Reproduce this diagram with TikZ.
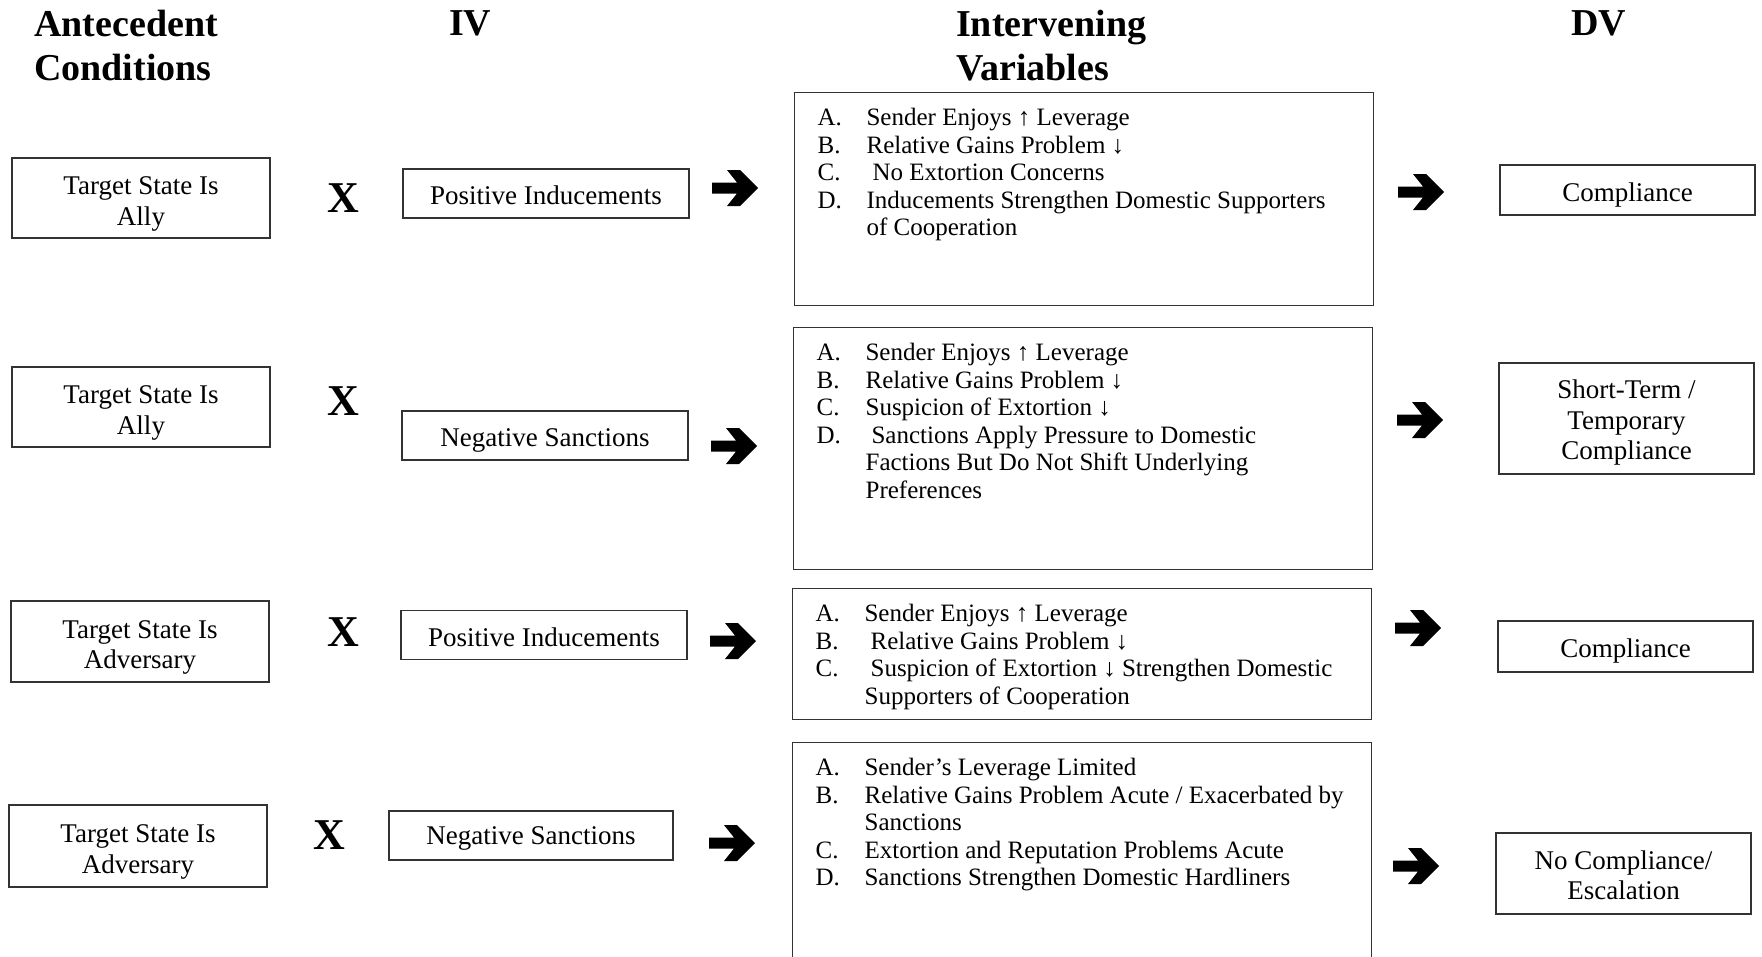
\documentclass[tikz,border=0pt]{standalone}
\usepackage{fontspec}
\setmainfont{Liberation Serif}
\usetikzlibrary{positioning}

% one lettered line of an intervening-variable box
\newcommand{\mechitem}[2]{\hangindent=49pt\hangafter=1\noindent\makebox[49pt][l]{#1}#2\par}
\newcommand{\mechtext}[2]{\parbox[t][#1][t]{579pt}{\leftskip=23pt\rightskip=0pt plus 1fil\fontsize{25}{27.5}\selectfont\vspace*{16pt}#2}}

\begin{document}
\begin{tikzpicture}[
    x=1pt, y=-1pt,
    drop/.style={execute at begin node={\rule{0pt}{#1}}},
    plainbox/.style={rectangle, draw=black!80, line width=1.2pt, align=center, inner sep=0pt, font=\fontsize{27}{30.5}\selectfont},
    condbox/.style={plainbox, minimum width=258pt, minimum height=#1, drop=60pt},
    condbox/.default=80pt,
    ivbox/.style={plainbox, minimum width=286pt, minimum height=49pt, drop=23pt},
    dvbox/.style={plainbox, minimum width=255pt, minimum height=#1, drop=28pt},
    dvbox/.default=50pt,
    mech/.style={rectangle, draw=black!80, line width=1.2pt, inner sep=0pt, anchor=north west},
    colhead/.style={anchor=north west, inner sep=0pt, align=left, font=\fontsize{38}{44}\selectfont\bfseries},
    xmark/.style={inner sep=0pt, font=\fontsize{44}{44}\selectfont\bfseries},
    fatarrow/.pic={\fill[black] (0,-5.5) -- (25,-5.5) -- (15,-18) -- (28,-18) -- (46,0) -- (28,18) -- (15,18) -- (25,5.5) -- (0,5.5) -- cycle;}
]
\useasboundingbox (0,0) rectangle (1762,956);
\clip (0,0) rectangle (1762,956);

% Column headings
\node[colhead] (hant) at (34,10) {Antecedent\\Conditions};
\node[colhead] (hiv) at (449,10) {IV};
\node[colhead] (hint) at (956,10) {Intervening\\Variables};
\node[colhead] (hdv) at (1571,10) {DV};

% Row 1: ally x inducements
\node[condbox] (cond1) at (141,198) {Target State Is\\Ally};
\node[xmark] (x1) at (343,198) {X};
\node[ivbox] (iv1) at (546,193.5) {Positive Inducements};
\pic at (712,188) {fatarrow};
\node[mech] (mech1) at (794,92) {\mechtext{213pt}{%
    \mechitem{A.}{Sender Enjoys ↑ Leverage}
    \mechitem{B.}{Relative Gains Problem ↓}
    \mechitem{C.}{\hspace{6pt}No Extortion Concerns}
    \mechitem{D.}{Inducements Strengthen Domestic Supporters\\of Cooperation}}};
\pic at (1398,192) {fatarrow};
\node[dvbox] (dv1) at (1627.5,190) {Compliance};

% Row 2: ally x sanctions
\node[condbox] (cond2) at (141,407) {Target State Is\\Ally};
\node[xmark] (x2) at (343,401) {X};
\node[ivbox, drop=27pt] (iv2) at (545,435.5) {Negative Sanctions};
\pic at (711,446) {fatarrow};
\node[mech] (mech2) at (793,327) {\mechtext{242pt}{%
    \mechitem{A.}{Sender Enjoys ↑ Leverage}
    \mechitem{B.}{Relative Gains Problem ↓}
    \mechitem{C.}{Suspicion of Extortion ↓}
    \mechitem{D.}{\hspace{6pt}Sanctions Apply Pressure to Domestic\\Factions But Do Not Shift Underlying\\Preferences}}};
\pic at (1397,420) {fatarrow};
\node[dvbox=111pt, drop=88pt] (dv2) at (1626.5,418.5) {Short-Term /\\Temporary\\Compliance};

% Row 3: adversary x inducements
\node[condbox=81pt] (cond3) at (140,641.5) {Target State Is\\Adversary};
\node[xmark] (x3) at (343,632) {X};
\node[ivbox] (iv3) at (544,635) {Positive Inducements};
\pic at (710,641) {fatarrow};
\node[mech] (mech3) at (792,588) {\mechtext{131pt}{%
    \mechitem{A.}{Sender Enjoys ↑ Leverage}
    \mechitem{B.}{\hspace{6pt}Relative Gains Problem ↓}
    \mechitem{C.}{\hspace{6pt}Suspicion of Extortion ↓ Strengthen Domestic\\Supporters of Cooperation}}};
\pic at (1395,628) {fatarrow};
\node[dvbox=51pt] (dv3) at (1625.5,646.5) {Compliance};

% Row 4: adversary x sanctions
\node[condbox=82pt] (cond4) at (138,846) {Target State Is\\Adversary};
\node[xmark] (x4) at (329,835) {X};
\node[ivbox, minimum width=284pt] (iv4) at (531,835.5) {Negative Sanctions};
\pic at (709,843) {fatarrow};
\node[mech] (mech4) at (792,742) {\mechtext{250pt}{%
    \mechitem{A.}{Sender’s Leverage Limited}
    \mechitem{B.}{Relative Gains Problem Acute / Exacerbated by\\Sanctions}
    \mechitem{C.}{Extortion and Reputation Problems Acute}
    \mechitem{D.}{Sanctions Strengthen Domestic Hardliners}}};
\pic at (1393,866) {fatarrow};
\node[dvbox=81pt, drop=53pt] (dv4) at (1623.5,873.5) {No Compliance/\\Escalation};

\end{tikzpicture}
\end{document}
